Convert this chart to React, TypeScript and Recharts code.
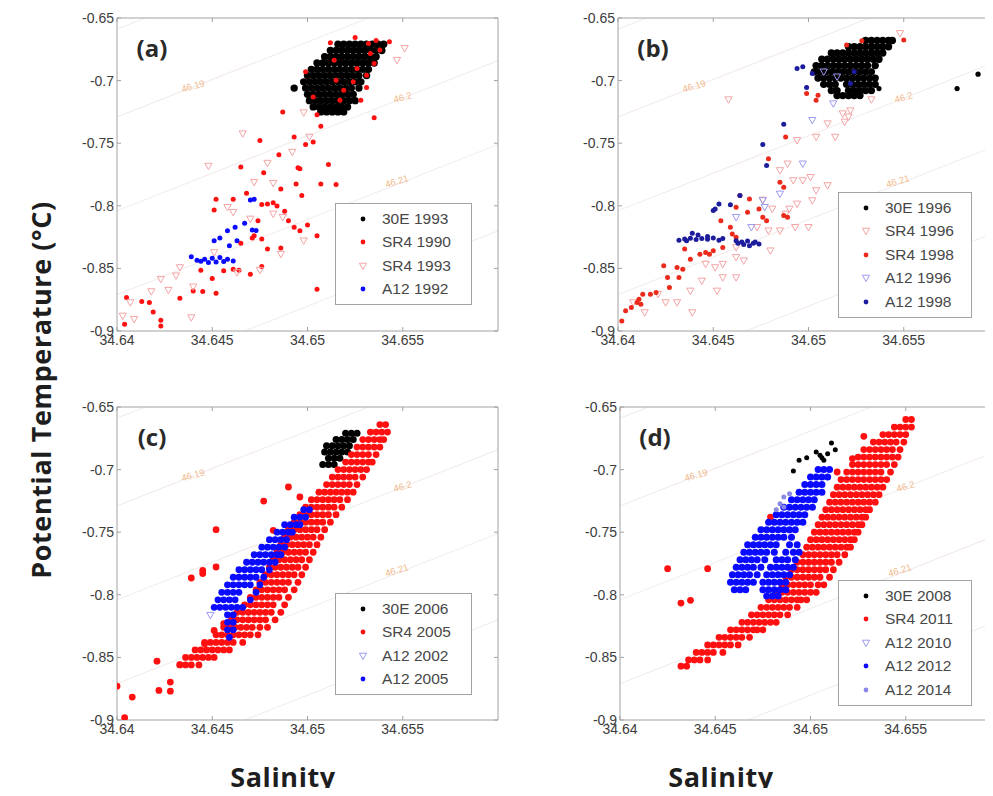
import React from 'react';
import { ScatterChart, Scatter, XAxis, YAxis, ReferenceLine } from 'recharts';

// Theta-S diagrams of the deep water at four occupations; salinity on x, potential temperature on y.

type Pt = { s: number; t: number };
type Pair = [number, number]; // [salinity, potential temperature]
type Row = [number, number[]]; // temperature, then the salinities of the cast levels at that temperature

const SAL_DOMAIN: [number, number] = [34.64, 34.66];
const TEMP_DOMAIN: [number, number] = [-0.9, -0.65];
const salTicks = [34.64, 34.645, 34.65, 34.655];
const tempTicks = [-0.9, -0.85, -0.8, -0.75, -0.7, -0.65];

// sigma-4 isopycnals (end points) and their labels
const isopycnals: { from: Pair; to: Pair }[] = [
  { from: [34.64, -0.659], to: [34.6415, -0.65] },
  { from: [34.64, -0.729], to: [34.6532, -0.65] },
  { from: [34.64, -0.804], to: [34.66, -0.684] },
  { from: [34.64, -0.871], to: [34.66, -0.751] },
  { from: [34.6467, -0.9], to: [34.66, -0.82] },
];
const isoLabels = [
  { s: 34.644, t: -0.705, label: '46.19' },
  { s: 34.655, t: -0.714, label: '46.2' },
  { s: 34.6547, t: -0.781, label: '46.21' },
];

// ---- (a) ----
const a30E1993: Row[] = [
  [-0.671, [34.6516, 34.6519, 34.6522, 34.6525, 34.6528, 34.6531, 34.6534, 34.6537, 34.654]],
  [-0.676, [34.6512, 34.6515, 34.6518, 34.6521, 34.6524, 34.6527, 34.653, 34.6533, 34.6536, 34.6539]],
  [-0.681, [34.6509, 34.6512, 34.6515, 34.6518, 34.6521, 34.6524, 34.6527, 34.653, 34.6533, 34.6536]],
  [-0.686, [34.6505, 34.6508, 34.6511, 34.6514, 34.6517, 34.652, 34.6523, 34.6526, 34.6529, 34.6532, 34.6535]],
  [-0.691, [34.6502, 34.6505, 34.6508, 34.6511, 34.6514, 34.6517, 34.652, 34.6523, 34.6526, 34.6529, 34.6532]],
  [-0.696, [34.65, 34.6503, 34.6506, 34.6509, 34.6512, 34.6515, 34.6518, 34.6521, 34.6524, 34.6527, 34.6531]],
  [-0.701, [34.6498, 34.6501, 34.6504, 34.6507, 34.651, 34.6513, 34.6516, 34.6519, 34.6522, 34.6525, 34.6528]],
  [-0.706, [34.6493, 34.6499, 34.6502, 34.6505, 34.6508, 34.6511, 34.6514, 34.6517, 34.652, 34.6523, 34.6527]],
  [-0.711, [34.65, 34.6503, 34.6506, 34.6509, 34.6512, 34.6515, 34.6518, 34.6521, 34.6524]],
  [-0.716, [34.6501, 34.6504, 34.6507, 34.651, 34.6513, 34.6516, 34.6519, 34.6522, 34.6525]],
  [-0.721, [34.6503, 34.6506, 34.6509, 34.6512, 34.6515, 34.6518, 34.6521]],
  [-0.725, [34.6507, 34.651, 34.6513, 34.6516, 34.6519]],
];
const aSR41990: Pair[] = [
  [34.6512, -0.6698], [34.6525, -0.6655], [34.6532, -0.6703], [34.6543, -0.669], [34.6536, -0.668],
  [34.6499, -0.693], [34.6528, -0.7157], [34.6535, -0.7296], [34.6487, -0.725], [34.6505, -0.7272],
  [34.6507, -0.7365], [34.6475, -0.7478], [34.6493, -0.7451], [34.6499, -0.751], [34.6503, -0.7491],
  [34.6485, -0.7592], [34.6495, -0.7697], [34.6496, -0.7705], [34.6511, -0.767], [34.6465, -0.7691],
  [34.6477, -0.7736], [34.6494, -0.7825], [34.6486, -0.7865], [34.6507, -0.7825], [34.6515, -0.783],
  [34.6468, -0.79], [34.6497, -0.7918], [34.6452, -0.7948], [34.6461, -0.7948], [34.6451, -0.8033],
  [34.6476, -0.799], [34.6479, -0.7985], [34.6482, -0.7975], [34.6484, -0.8002], [34.6488, -0.8044],
  [34.649, -0.8119], [34.6493, -0.8172], [34.6496, -0.82], [34.65, -0.8153], [34.6505, -0.8239],
  [34.6474, -0.8119], [34.6472, -0.8239], [34.6471, -0.8257], [34.6476, -0.8265], [34.6479, -0.8345],
  [34.6486, -0.8337], [34.6465, -0.83], [34.6456, -0.8519], [34.6461, -0.8506], [34.6464, -0.8514],
  [34.647, -0.8546], [34.6476, -0.8485], [34.645, -0.8581], [34.6444, -0.8514], [34.644, -0.868],
  [34.6445, -0.8685], [34.6452, -0.8698], [34.6433, -0.8738], [34.6405, -0.8733], [34.6413, -0.8765],
  [34.6417, -0.8773], [34.6419, -0.8848], [34.6423, -0.8914], [34.6423, -0.896], [34.6404, -0.8946],
  [34.6505, -0.8666],
  [34.6515, -0.6997], [34.6519, -0.7077], [34.6526, -0.6903], [34.6531, -0.6957], [34.6531, -0.7056],
  [34.6517, -0.7157], [34.6503, -0.713], [34.6535, -0.6863], [34.6524, -0.701], [34.6538, -0.6756],
  [34.6533, -0.6783], [34.6514, -0.6837],
];
const aSR41993: Pair[] = [
  [34.6551, -0.6743], [34.6547, -0.6837], [34.6498, -0.7256], [34.6466, -0.7424], [34.6448, -0.7683],
  [34.6479, -0.7659], [34.6472, -0.7812], [34.6492, -0.7571], [34.6501, -0.7451], [34.6482, -0.782],
  [34.6458, -0.8012], [34.6461, -0.8052], [34.6487, -0.8092], [34.647, -0.8105], [34.6482, -0.8065],
  [34.6498, -0.8279], [34.6486, -0.8386], [34.6451, -0.8373], [34.6475, -0.8514], [34.6463, -0.8533],
  [34.6433, -0.8493], [34.6431, -0.8559], [34.6423, -0.8586], [34.6418, -0.8685], [34.6427, -0.8674],
  [34.644, -0.8647], [34.6407, -0.8773], [34.6403, -0.888], [34.6409, -0.8906], [34.6439, -0.8893],
];
const aA121992: Pair[] = [
  [34.647, -0.7953], [34.6472, -0.7948], [34.6467, -0.814], [34.6462, -0.8172], [34.6458, -0.8199],
  [34.6454, -0.8257], [34.6451, -0.8279], [34.6459, -0.8319], [34.6463, -0.8279], [34.6471, -0.8193],
  [34.6473, -0.8198], [34.6439, -0.8407], [34.6442, -0.8434], [34.6446, -0.8426], [34.645, -0.8418],
  [34.6454, -0.8413], [34.6458, -0.8426], [34.6461, -0.844], [34.6448, -0.8453], [34.6452, -0.8448],
  [34.6444, -0.8442], [34.6456, -0.8445],
];

// ---- (b) ----
const b30E1996: Row[] = [
  [-0.668, [34.653, 34.6533, 34.6536, 34.6539, 34.6542, 34.6544]],
  [-0.673, [34.6521, 34.6524, 34.6527, 34.653, 34.6533, 34.6536, 34.6539, 34.6542]],
  [-0.678, [34.6512, 34.6515, 34.6518, 34.6521, 34.6524, 34.6527, 34.653, 34.6533, 34.6536, 34.6539]],
  [-0.683, [34.6507, 34.651, 34.6513, 34.6516, 34.6519, 34.6522, 34.6525, 34.6528, 34.6531, 34.6534, 34.6537]],
  [-0.688, [34.6504, 34.6507, 34.651, 34.6513, 34.6516, 34.6519, 34.6522, 34.6525, 34.6528, 34.6531, 34.6535]],
  [-0.693, [34.6503, 34.6506, 34.6509, 34.6512, 34.6515, 34.6518, 34.6521, 34.6524, 34.6527, 34.653, 34.6533]],
  [-0.698, [34.6505, 34.6508, 34.6511, 34.6514, 34.6517, 34.652, 34.6523, 34.6526, 34.6529, 34.6532, 34.6535]],
  [-0.703, [34.6508, 34.6511, 34.6514, 34.652, 34.6523, 34.6526, 34.6529, 34.6532, 34.6535]],
  [-0.708, [34.6512, 34.6515, 34.6521, 34.6524, 34.6527, 34.653, 34.6533]],
  [-0.712, [34.6515, 34.6518, 34.6521, 34.6524, 34.6527]],
];
const b30E1996Outliers: Pair[] = [[34.6537, -0.7064], [34.6578, -0.7064], [34.6589, -0.6949]];
const bSR41996: Pair[] = [
  [34.6548, -0.6623], [34.6533, -0.7152], [34.6458, -0.7152], [34.6518, -0.7264], [34.6521, -0.729],
  [34.6519, -0.733], [34.6522, -0.724], [34.651, -0.7344], [34.6494, -0.7478], [34.6504, -0.7451],
  [34.6514, -0.7451], [34.6489, -0.7665], [34.6485, -0.7718], [34.6497, -0.7798], [34.6492, -0.7798],
  [34.6501, -0.7772], [34.651, -0.7838], [34.6504, -0.7878], [34.6502, -0.7958], [34.6494, -0.7985],
  [34.6476, -0.7953], [34.6481, -0.8025], [34.6488, -0.8065], [34.649, -0.8025], [34.6493, -0.8172],
  [34.65, -0.8172], [34.6485, -0.8199], [34.6479, -0.8199], [34.6473, -0.8172], [34.648, -0.8359],
  [34.6462, -0.8412], [34.6466, -0.8439], [34.6455, -0.8466], [34.6451, -0.8493], [34.6446, -0.8466],
  [34.6462, -0.8573], [34.6455, -0.8573], [34.6444, -0.86], [34.6452, -0.868], [34.6438, -0.868],
  [34.6431, -0.8773], [34.6425, -0.8773], [34.6439, -0.8853], [34.6414, -0.8853], [34.6408, -0.8773],
  [34.6421, -0.8706], [34.6462, -0.8333],
];
const bSR41998: Pair[] = [
  [34.652, -0.6716], [34.6528, -0.6682], [34.655, -0.6676], [34.6499, -0.7104], [34.6504, -0.7157],
  [34.6505, -0.7117], [34.6488, -0.7451], [34.6479, -0.7624], [34.6485, -0.7811], [34.6487, -0.7851],
  [34.6464, -0.7918], [34.6469, -0.7945], [34.6474, -0.8025], [34.6468, -0.8052], [34.6462, -0.8012],
  [34.6476, -0.8092], [34.6478, -0.8119], [34.6454, -0.8119], [34.6459, -0.8172], [34.646, -0.8225],
  [34.6462, -0.8252], [34.6487, -0.8078], [34.6489, -0.8092], [34.6455, -0.8333], [34.645, -0.8359],
  [34.6448, -0.8386], [34.6446, -0.8373], [34.6443, -0.8386], [34.6435, -0.8346], [34.6438, -0.8426],
  [34.6434, -0.8506], [34.6431, -0.8493], [34.6432, -0.8573], [34.6426, -0.8573], [34.6424, -0.8479],
  [34.6427, -0.8653], [34.642, -0.8693], [34.6417, -0.8706], [34.6413, -0.8706], [34.6411, -0.8746],
  [34.641, -0.8773], [34.6407, -0.8813], [34.6404, -0.8839], [34.6402, -0.892], [34.6412, -0.8786],
];
const bA121996: Pair[] = [
  [34.6513, -0.7184], [34.6502, -0.7317], [34.6497, -0.7665], [34.6485, -0.7905], [34.6476, -0.7958],
  [34.6477, -0.8012], [34.6462, -0.8092], [34.647, -0.8172], [34.6508, -0.693], [34.6515, -0.697],
];
const bA121998: Pair[] = [
  [34.6494, -0.6903], [34.6497, -0.689], [34.6502, -0.6943], [34.6499, -0.7056], [34.6487, -0.7349],
  [34.6476, -0.751], [34.6478, -0.7678], [34.6464, -0.7918], [34.6459, -0.7991], [34.6453, -0.7985],
  [34.6451, -0.8025], [34.645, -0.8038], [34.6524, -0.693], [34.6522, -0.7023],
  [34.6432, -0.8275], [34.6435, -0.8266], [34.6438, -0.826], [34.6441, -0.827], [34.6444, -0.8262],
  [34.6447, -0.8268], [34.645, -0.8258], [34.6453, -0.8275], [34.6455, -0.8262], [34.6439, -0.822],
  [34.6442, -0.8233], [34.6447, -0.8245], [34.6436, -0.828],
  [34.6462, -0.828], [34.6465, -0.829], [34.6468, -0.8282], [34.6471, -0.83], [34.6466, -0.831],
  [34.6469, -0.832], [34.6472, -0.829], [34.6474, -0.8305], [34.6463, -0.83],
];

// ---- (c) ----
const c30E2006: Row[] = [
  [-0.671, [34.652, 34.6523, 34.6526]],
  [-0.676, [34.6515, 34.6518, 34.6521, 34.6524]],
  [-0.681, [34.651, 34.6513, 34.6516, 34.6519, 34.6522]],
  [-0.686, [34.6509, 34.6512, 34.6515, 34.6518, 34.6521]],
  [-0.691, [34.6511, 34.6514, 34.6517]],
  [-0.696, [34.6508, 34.6511, 34.6514]],
];
const cSR42005: Row[] = [
  [-0.664, [34.6538, 34.6541]],
  [-0.67, [34.6533, 34.6536, 34.6539, 34.6542]],
  [-0.676, [34.6529, 34.6532, 34.6535, 34.6538, 34.654]],
  [-0.682, [34.6526, 34.6529, 34.6532, 34.6535, 34.6538]],
  [-0.688, [34.6523, 34.6526, 34.6529, 34.6532, 34.6536]],
  [-0.694, [34.652, 34.6523, 34.6526, 34.6529, 34.6532, 34.6534]],
  [-0.7, [34.6516, 34.6519, 34.6522, 34.6525, 34.6528, 34.6531]],
  [-0.706, [34.6513, 34.6516, 34.6519, 34.6522, 34.6525, 34.6529]],
  [-0.712, [34.651, 34.6513, 34.6516, 34.6519, 34.6522, 34.6526]],
  [-0.718, [34.6506, 34.6509, 34.6512, 34.6515, 34.6518, 34.6521, 34.6524]],
  [-0.724, [34.6502, 34.6505, 34.6508, 34.6511, 34.6514, 34.6517, 34.6521]],
  [-0.73, [34.6499, 34.6502, 34.6505, 34.6508, 34.6511, 34.6514, 34.6518]],
  [-0.736, [34.6496, 34.6499, 34.6502, 34.6505, 34.6508, 34.6511, 34.6515]],
  [-0.742, [34.6493, 34.6496, 34.6499, 34.6502, 34.6505, 34.6508, 34.6512]],
  [-0.748, [34.649, 34.6493, 34.6496, 34.6499, 34.6502, 34.6505, 34.6509]],
  [-0.754, [34.6488, 34.6491, 34.6494, 34.6497, 34.65, 34.6503, 34.6507]],
  [-0.76, [34.6486, 34.6489, 34.6492, 34.6495, 34.6498, 34.6501, 34.6505]],
  [-0.766, [34.6484, 34.6487, 34.649, 34.6493, 34.6496, 34.6499, 34.6503]],
  [-0.772, [34.6482, 34.6485, 34.6488, 34.6491, 34.6494, 34.6497, 34.6501]],
  [-0.778, [34.648, 34.6483, 34.6486, 34.6489, 34.6492, 34.6495, 34.6499]],
  [-0.784, [34.6478, 34.6481, 34.6484, 34.6487, 34.649, 34.6493, 34.6497]],
  [-0.79, [34.6475, 34.6478, 34.6481, 34.6484, 34.6487, 34.649, 34.6495]],
  [-0.796, [34.6473, 34.6476, 34.6479, 34.6482, 34.6485, 34.6488, 34.6493]],
  [-0.802, [34.647, 34.6473, 34.6476, 34.6479, 34.6482, 34.6485, 34.649]],
  [-0.808, [34.6467, 34.647, 34.6473, 34.6476, 34.6479, 34.6482, 34.6488]],
  [-0.814, [34.6463, 34.6466, 34.6469, 34.6472, 34.6475, 34.6478, 34.6481, 34.6486]],
  [-0.82, [34.646, 34.6463, 34.6466, 34.6469, 34.6472, 34.6475, 34.6478, 34.6483]],
  [-0.826, [34.6456, 34.6459, 34.6462, 34.6465, 34.6468, 34.6471, 34.6475, 34.6479]],
  [-0.832, [34.6452, 34.6455, 34.6458, 34.6461, 34.6464, 34.6467, 34.647, 34.6474]],
  [-0.838, [34.6446, 34.6449, 34.6452, 34.6455, 34.6458, 34.6461, 34.6466]],
  [-0.844, [34.6441, 34.6444, 34.6447, 34.645, 34.6453, 34.6456, 34.6459]],
  [-0.85, [34.6436, 34.6439, 34.6442, 34.6445, 34.6448, 34.6451]],
  [-0.856, [34.6433, 34.6436, 34.6439, 34.6443]],
];
const cSR42005Scatter: Pair[] = [
  [34.649, -0.7139], [34.6496, -0.7219], [34.6477, -0.7251], [34.6482, -0.7485], [34.6452, -0.748],
  [34.6452, -0.7778], [34.6445, -0.7805], [34.6445, -0.783], [34.6439, -0.7866], [34.6451, -0.8285],
  [34.6456, -0.8231], [34.6446, -0.8391], [34.6421, -0.853], [34.6433, -0.8558], [34.64, -0.873],
  [34.6408, -0.8817], [34.6422, -0.8764], [34.6428, -0.8697], [34.6428, -0.877], [34.6404, -0.8982],
];
const cA122002: Pair[] = [[34.6449, -0.8163]];
const cA122005: Row[] = [
  [-0.732, [34.6498, 34.6501]],
  [-0.738, [34.6493, 34.6496, 34.6499]],
  [-0.744, [34.6488, 34.6491, 34.6494, 34.6496]],
  [-0.75, [34.6484, 34.6487, 34.649, 34.6492]],
  [-0.756, [34.648, 34.6483, 34.6486, 34.6489]],
  [-0.762, [34.6476, 34.6479, 34.6482, 34.6485, 34.6488]],
  [-0.768, [34.6472, 34.6475, 34.6478, 34.6481, 34.6484, 34.6486]],
  [-0.774, [34.6468, 34.6471, 34.6474, 34.6477, 34.648, 34.6483]],
  [-0.78, [34.6464, 34.6467, 34.647, 34.6473, 34.6476, 34.648]],
  [-0.786, [34.6461, 34.6464, 34.6467, 34.647, 34.6473, 34.6477]],
  [-0.792, [34.6458, 34.6461, 34.6464, 34.6467, 34.647, 34.6475]],
  [-0.798, [34.6455, 34.6458, 34.6461, 34.6464, 34.6473]],
  [-0.804, [34.6453, 34.6456, 34.6459, 34.6462, 34.647]],
  [-0.81, [34.6451, 34.6454, 34.6457, 34.646, 34.6463, 34.6466]],
  [-0.816, [34.6458, 34.6461]],
  [-0.822, [34.6458, 34.6461]],
  [-0.828, [34.6458, 34.6461]],
  [-0.834, [34.6459]],
];

// ---- (d) ----
const d30E2008: Pair[] = [
  [34.6491, -0.7011], [34.6494, -0.6926], [34.6498, -0.6905], [34.6503, -0.686], [34.6505, -0.6886],
  [34.6507, -0.6926], [34.6509, -0.6873], [34.6511, -0.6788], [34.6513, -0.6841], [34.6506, -0.6905],
];
const dSR42011: Row[] = [
  [-0.66, [34.655, 34.6553]],
  [-0.666, [34.6544, 34.6547, 34.655, 34.6553]],
  [-0.672, [34.6538, 34.6541, 34.6544, 34.6547, 34.655]],
  [-0.678, [34.6533, 34.6536, 34.6539, 34.6542, 34.6545, 34.6549]],
  [-0.684, [34.6528, 34.6531, 34.6534, 34.6537, 34.654, 34.6543, 34.6547]],
  [-0.69, [34.6525, 34.6528, 34.6531, 34.6534, 34.6537, 34.654, 34.6543, 34.6546]],
  [-0.696, [34.6522, 34.6525, 34.6528, 34.6531, 34.6534, 34.6537, 34.654, 34.6544]],
  [-0.702, [34.6519, 34.6522, 34.6525, 34.6528, 34.6531, 34.6534, 34.6537, 34.6542]],
  [-0.708, [34.6516, 34.6519, 34.6522, 34.6525, 34.6528, 34.6531, 34.6534, 34.6537, 34.654]],
  [-0.714, [34.6514, 34.6517, 34.652, 34.6523, 34.6526, 34.6529, 34.6532, 34.6535, 34.6538]],
  [-0.72, [34.6512, 34.6515, 34.6518, 34.6521, 34.6524, 34.6527, 34.653, 34.6533, 34.6536]],
  [-0.726, [34.651, 34.6513, 34.6516, 34.6519, 34.6522, 34.6525, 34.6528, 34.6531, 34.6534]],
  [-0.732, [34.6508, 34.6511, 34.6514, 34.6517, 34.652, 34.6523, 34.6526, 34.6529, 34.6531]],
  [-0.738, [34.6506, 34.6509, 34.6512, 34.6515, 34.6518, 34.6521, 34.6524, 34.6527, 34.6529]],
  [-0.744, [34.6504, 34.6507, 34.651, 34.6513, 34.6516, 34.6519, 34.6522, 34.6525, 34.6527]],
  [-0.75, [34.6502, 34.6505, 34.6508, 34.6511, 34.6514, 34.6517, 34.652, 34.6523, 34.6525]],
  [-0.756, [34.65, 34.6503, 34.6506, 34.6509, 34.6512, 34.6515, 34.6518, 34.6521, 34.6523]],
  [-0.762, [34.6498, 34.6501, 34.6504, 34.6507, 34.651, 34.6513, 34.6516, 34.6519, 34.6521]],
  [-0.768, [34.6496, 34.6499, 34.6502, 34.6505, 34.6508, 34.6511, 34.6514, 34.6518]],
  [-0.774, [34.6493, 34.6496, 34.6499, 34.6502, 34.6505, 34.6508, 34.6511, 34.6515]],
  [-0.78, [34.649, 34.6493, 34.6496, 34.6499, 34.6502, 34.6505, 34.6508, 34.6512]],
  [-0.786, [34.6487, 34.649, 34.6493, 34.6496, 34.6499, 34.6502, 34.6505, 34.651]],
  [-0.792, [34.6485, 34.6488, 34.6491, 34.6494, 34.6497, 34.65, 34.6504, 34.6507]],
  [-0.798, [34.6482, 34.6485, 34.6488, 34.6491, 34.6494, 34.6497, 34.65, 34.6503]],
  [-0.804, [34.6478, 34.6481, 34.6484, 34.6487, 34.649, 34.6493, 34.6495, 34.6498]],
  [-0.81, [34.6474, 34.6477, 34.648, 34.6483, 34.6486, 34.6489, 34.6493]],
  [-0.816, [34.6469, 34.6472, 34.6475, 34.6478, 34.6481, 34.6484, 34.6488]],
  [-0.822, [34.6464, 34.6467, 34.647, 34.6473, 34.6476, 34.6479, 34.6482]],
  [-0.828, [34.6458, 34.6461, 34.6464, 34.6467, 34.647, 34.6472, 34.6475]],
  [-0.834, [34.6452, 34.6455, 34.6458, 34.6461, 34.6464, 34.6468]],
  [-0.84, [34.6446, 34.6449, 34.6452, 34.6455, 34.6458, 34.6462]],
  [-0.846, [34.644, 34.6443, 34.6446, 34.6449, 34.6454]],
  [-0.852, [34.6436, 34.6439, 34.6442, 34.6446]],
  [-0.857, [34.6432, 34.6435]],
];
const dSR42011Scatter: Pair[] = [
  [34.6432, -0.8066], [34.6437, -0.8044], [34.6425, -0.7791], [34.6446, -0.7791], [34.6479, -0.7379],
  [34.6528, -0.6734], [34.6522, -0.6912], [34.6514, -0.7019],
];
const dA122010: Pair[] = [];
const dA122012: Row[] = [
  [-0.7, [34.6504, 34.6507, 34.651]],
  [-0.706, [34.65, 34.6503, 34.6506, 34.6509]],
  [-0.712, [34.6497, 34.65, 34.6503, 34.6506]],
  [-0.718, [34.6494, 34.6497, 34.65, 34.6503, 34.6506]],
  [-0.724, [34.649, 34.6493, 34.6496, 34.6499, 34.6502]],
  [-0.73, [34.6486, 34.6489, 34.6492, 34.6495, 34.6498, 34.6501]],
  [-0.736, [34.6482, 34.6485, 34.6488, 34.6491, 34.6494, 34.6497]],
  [-0.742, [34.6478, 34.6481, 34.6484, 34.6487, 34.649, 34.6493, 34.6496]],
  [-0.748, [34.6474, 34.6477, 34.648, 34.6483, 34.6486, 34.6489, 34.6492]],
  [-0.754, [34.6471, 34.6474, 34.6477, 34.648, 34.6483, 34.6486, 34.649]],
  [-0.76, [34.6467, 34.647, 34.6473, 34.6476, 34.6479, 34.6482, 34.6489, 34.6493]],
  [-0.766, [34.6465, 34.6468, 34.6471, 34.6474, 34.6477, 34.6481, 34.6487, 34.6491, 34.6494]],
  [-0.772, [34.6463, 34.6466, 34.6469, 34.6472, 34.6476, 34.6482, 34.6485, 34.6488, 34.6492]],
  [-0.778, [34.6461, 34.6464, 34.6467, 34.647, 34.6474, 34.6479, 34.6482, 34.6485, 34.6488, 34.6491]],
  [-0.784, [34.6459, 34.6462, 34.6465, 34.6468, 34.6472, 34.6477, 34.648, 34.6483, 34.6486, 34.6489]],
  [-0.79, [34.6458, 34.6461, 34.6464, 34.6467, 34.647, 34.6475, 34.6478, 34.6481, 34.6484, 34.6487]],
  [-0.796, [34.646, 34.6463, 34.6466, 34.6475, 34.6478, 34.6481, 34.6484, 34.6487]],
  [-0.801, [34.6477, 34.648, 34.6483]],
];
const dA122014: Pair[] = [
  [34.6484, -0.7272], [34.6486, -0.7219], [34.6489, -0.7192], [34.6482, -0.732], [34.6486, -0.7299],
];

const fromRows = (rows: Row[]): Pt[] => rows.flatMap(([t, ss]) => ss.map((s) => ({ s, t })));
const fromPairs = (ps: Pair[]): Pt[] => ps.map(([s, t]) => ({ s, t }));

type Mark = 'dot' | 'tri';
type Series = { name: string; pts: Pt[]; mark: Mark; color: string; r?: number };

const dotShape = (r: number, fill: string) => (p: any) => <circle cx={p.cx} cy={p.cy} r={r} fill={fill} />;
const triShape = (stroke: string) => (p: any) => (
  <path
    d={`M${p.cx - 3.6},${p.cy - 2.8}L${p.cx + 3.6},${p.cy - 2.8}L${p.cx},${p.cy + 3.6}Z`}
    fill="none"
    stroke={stroke}
    strokeWidth={1}
  />
);
const isoLabelShape = (p: any) => (
  <text
    x={p.cx}
    y={p.cy}
    fill="#f1b98c"
    fontSize={9.5}
    fontFamily="Liberation Sans"
    textAnchor="middle"
    dominantBaseline="middle"
    transform={`rotate(-16 ${p.cx} ${p.cy})`}
  >
    {p.payload.label}
  </text>
);

const BLACK = '#000000';
const RED = '#ff1010';
const PINK = '#f4a4a4';
const BLUE = '#0a0aff';
const NAVY = '#1c1c9c';
const LAVENDER = '#9a9af0';
const LIGHT_BLUE = '#8a8ae6';

const panelA: Series[] = [
  { name: '30E 1993', pts: fromRows(a30E1993), mark: 'dot', color: BLACK, r: 3.7 },
  { name: 'SR4 1990', pts: fromPairs(aSR41990), mark: 'dot', color: RED },
  { name: 'SR4 1993', pts: fromPairs(aSR41993), mark: 'tri', color: PINK },
  { name: 'A12 1992', pts: fromPairs(aA121992), mark: 'dot', color: BLUE },
];
const panelB: Series[] = [
  { name: '30E 1996', pts: fromRows(b30E1996), mark: 'dot', color: BLACK, r: 3.7 },
  { name: 'SR4 1996', pts: fromPairs(bSR41996), mark: 'tri', color: PINK },
  { name: 'SR4 1998', pts: fromPairs(bSR41998), mark: 'dot', color: '#ec2a1c' },
  { name: 'A12 1996', pts: fromPairs(bA121996), mark: 'tri', color: LAVENDER },
  { name: 'A12 1998', pts: fromPairs(bA121998), mark: 'dot', color: NAVY },
];
const panelC: Series[] = [
  { name: '30E 2006', pts: fromRows(c30E2006), mark: 'dot', color: BLACK, r: 3.5 },
  { name: 'SR4 2005', pts: [...fromRows(cSR42005), ...fromPairs(cSR42005Scatter)], mark: 'dot', color: RED, r: 3.4 },
  { name: 'A12 2002', pts: fromPairs(cA122002), mark: 'tri', color: LAVENDER },
  { name: 'A12 2005', pts: fromRows(cA122005), mark: 'dot', color: BLUE, r: 3.4 },
];
const panelD: Series[] = [
  { name: '30E 2008', pts: fromPairs(d30E2008), mark: 'dot', color: BLACK },
  { name: 'SR4 2011', pts: [...fromRows(dSR42011), ...fromPairs(dSR42011Scatter)], mark: 'dot', color: RED, r: 3.4 },
  { name: 'A12 2010', pts: fromPairs(dA122010), mark: 'tri', color: LAVENDER },
  { name: 'A12 2012', pts: fromRows(dA122012), mark: 'dot', color: BLUE, r: 3.5 },
  { name: 'A12 2014', pts: fromPairs(dA122014), mark: 'dot', color: LIGHT_BLUE },
];

const AXIS_GREY = '#a2a2a2';
const tickFont = { fill: '#3c3c3c', fontSize: 14, fontFamily: 'Liberation Sans' };
const noTick = () => <g />;

const PLOT_W = 381;
const PLOT_H = 313;
const Y_AXIS_W = 60;
const CHART_W = Y_AXIS_W + PLOT_W + 1;
const CHART_H = 9 + 1 + PLOT_H + 25;

function LegendBox({ left, top, width, items }: { left: number; top: number; width: number; items: Series[] }) {
  return (
    <div
      style={{
        position: 'absolute',
        left,
        top,
        width,
        boxSizing: 'border-box',
        border: `1px solid ${AXIS_GREY}`,
        background: '#fff',
        padding: '3px 0',
      }}
    >
      {items.map((it) => (
        <div key={it.name} style={{ height: 23.5, display: 'flex', alignItems: 'center' }}>
          <svg width={46} height={20} style={{ flex: 'none' }}>
            {it.mark === 'dot' ? (
              <circle cx={27} cy={10} r={2.4} fill={it.color} />
            ) : (
              <path d="M23.4,7.2L30.6,7.2L27,13.6Z" fill="none" stroke={it.color} strokeWidth={1} />
            )}
          </svg>
          <span style={{ fontFamily: 'Liberation Sans', fontSize: 15.5, color: '#474747', whiteSpace: 'nowrap' }}>
            {it.name}
          </span>
        </div>
      ))}
    </div>
  );
}

function Panel({
  x,
  y,
  tag,
  series,
  extra,
  legend,
}: {
  x: number;
  y: number;
  tag: string;
  series: Series[];
  extra?: Series[];
  legend: { left: number; top: number; width: number };
}) {
  const drawn = [...series, ...(extra ?? [])];
  return (
    <>
      <div style={{ position: 'absolute', left: x - Y_AXIS_W, top: y - 10, width: CHART_W, height: CHART_H }}>
        <ScatterChart width={CHART_W} height={CHART_H} margin={{ top: 9, right: 0, bottom: 0, left: 0 }}>
          <XAxis
            xAxisId="b"
            type="number"
            dataKey="s"
            domain={SAL_DOMAIN}
            allowDataOverflow
            ticks={salTicks}
            interval={0}
            height={25}
            tickSize={-4}
            tickMargin={8}
            stroke={AXIS_GREY}
            tick={tickFont}
            tickFormatter={(v: number) => String(v)}
          />
          <XAxis
            xAxisId="t"
            orientation="top"
            type="number"
            dataKey="s"
            domain={SAL_DOMAIN}
            allowDataOverflow
            ticks={salTicks}
            interval={0}
            height={1}
            tickSize={-4}
            stroke={AXIS_GREY}
            tick={noTick}
          />
          <YAxis
            yAxisId="l"
            type="number"
            dataKey="t"
            domain={TEMP_DOMAIN}
            allowDataOverflow
            ticks={tempTicks}
            interval={0}
            width={Y_AXIS_W}
            tickSize={-4}
            tickMargin={7}
            stroke={AXIS_GREY}
            tick={tickFont}
            tickFormatter={(v: number) => String(v)}
          />
          <YAxis
            yAxisId="r"
            orientation="right"
            type="number"
            dataKey="t"
            domain={TEMP_DOMAIN}
            allowDataOverflow
            ticks={tempTicks}
            interval={0}
            width={1}
            tickSize={-4}
            stroke={AXIS_GREY}
            tick={noTick}
          />
          {isopycnals.map((l, i) => (
            <ReferenceLine
              key={i}
              xAxisId="b"
              yAxisId="l"
              segment={[
                { x: l.from[0], y: l.from[1] },
                { x: l.to[0], y: l.to[1] },
              ]}
              ifOverflow="hidden"
              stroke="#f5eded"
              strokeWidth={1.2}
            />
          ))}
          <Scatter xAxisId="b" yAxisId="l" data={isoLabels} shape={isoLabelShape} isAnimationActive={false} />
          {drawn.map((sr, i) => (
            <Scatter
              key={`${sr.name}-${i}`}
              name={sr.name}
              xAxisId="b"
              yAxisId="l"
              data={sr.pts}
              shape={sr.mark === 'dot' ? dotShape(sr.r ?? 2.5, sr.color) : triShape(sr.color)}
              isAnimationActive={false}
            />
          ))}
        </ScatterChart>
      </div>
      <div
        style={{
          position: 'absolute',
          left: x + 35,
          top: y + 30,
          transform: 'translate(-50%, -50%)',
          fontFamily: 'Open Sans',
          fontWeight: 700,
          fontSize: 24,
          color: '#2a2a2a',
          lineHeight: 1,
        }}
      >
        {tag}
      </div>
      <LegendBox {...legend} items={series} />
    </>
  );
}

const titleStyle: React.CSSProperties = {
  position: 'absolute',
  fontFamily: 'Open Sans',
  fontWeight: 700,
  fontSize: 27,
  letterSpacing: 0.6,
  color: '#1e1e1e',
  whiteSpace: 'nowrap',
  lineHeight: 1,
  transform: 'translate(-50%, -50%)',
};

export default function App() {
  return (
    <div style={{ position: 'relative', margin: -8, width: 993, height: 796, overflow: 'hidden', background: '#fff' }}>
      <Panel x={117} y={18} tag="(a)" series={panelA} legend={{ left: 335, top: 203, width: 137 }} />
      <Panel
        x={618}
        y={18}
        tag="(b)"
        series={panelB}
        extra={[{ name: '30E 1996', pts: fromPairs(b30E1996Outliers), mark: 'dot', color: BLACK, r: 2.6 }]}
        legend={{ left: 838, top: 192, width: 134 }}
      />
      <Panel x={117} y={407} tag="(c)" series={panelC} legend={{ left: 335, top: 593, width: 137 }} />
      <Panel x={620} y={407} tag="(d)" series={panelD} legend={{ left: 838, top: 580, width: 134 }} />
      <div style={{ ...titleStyle, left: 40, top: 390, transform: 'translate(-50%, -50%) rotate(-90deg)' }}>
        Potential Temperature (°C)
      </div>
      <div style={{ ...titleStyle, left: 283, top: 776 }}>Salinity</div>
      <div style={{ ...titleStyle, left: 721, top: 776 }}>Salinity</div>
    </div>
  );
}
